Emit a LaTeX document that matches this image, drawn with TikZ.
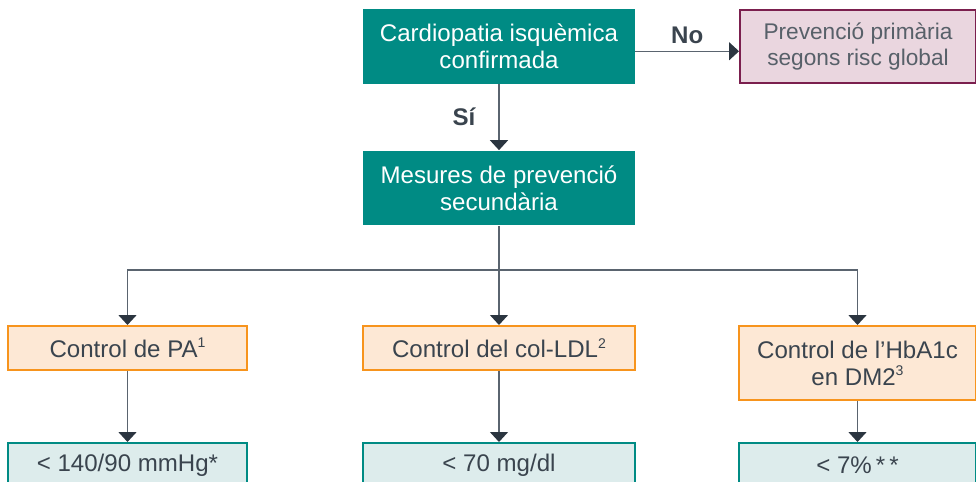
\documentclass[tikz,border=0pt]{standalone}
\usepackage{fontspec}
\setmainfont{Liberation Sans}
\usetikzlibrary{arrows.meta}

\definecolor{tealbox}{HTML}{008B84}
\definecolor{orangeline}{HTML}{F7941D}
\definecolor{orangefill}{HTML}{FDE8D5}
\definecolor{maroonline}{HTML}{7B1F4E}
\definecolor{pinkfill}{HTML}{EAD6DF}
\definecolor{palefill}{HTML}{DDECEC}
\definecolor{textgray}{HTML}{3A444E}
\definecolor{linegray}{HTML}{5A646F}
\definecolor{tipgray}{HTML}{2B3540}

% small footnote marks
\newcommand{\fnmark}[1]{\raisebox{0.75ex}{\fontsize{8}{8}\selectfont #1}}

\begin{document}
\begin{tikzpicture}[x=0.02cm,y=-0.02cm,
  every node/.style={font=\fontsize{13.7}{15.4}\selectfont,align=center,inner sep=0pt,text=textgray},
  mainbox/.style={fill=tealbox,text=white,minimum width=5.44cm,minimum height=1.5cm},
  primbox/.style={draw=maroonline,line width=0.04cm,fill=pinkfill,text=textgray!85,minimum width=4.72cm,minimum height=1.46cm,font=\fontsize{12.9}{15.2}\selectfont},
  ctrlbox/.style={draw=orangeline,line width=0.04cm,fill=orangefill,minimum height=0.88cm},
  goalbox/.style={draw=tealbox,line width=0.04cm,fill=palefill,minimum height=0.88cm},
  lbl/.style={font=\fontsize{13.7}{15.4}\selectfont\bfseries},
  arr/.style={draw=linegray,line width=0.03cm,-{Triangle[width=0.36cm,length=0.2cm,color=tipgray]}}]
\useasboundingbox (0,0) rectangle (976,482);

\node[mainbox] (cardio) at (499,46.5) {Cardiopatia isquèmica\\confirmada};
\node[primbox] (prim) at (858,46.5) {Prevenció primària\\segons risc global};
\node[mainbox] (mesures) at (499,188) {Mesures de prevenció\\secundària};
\coordinate (split) at (499,270);
%
\node[ctrlbox,minimum width=4.78cm] (pa) at (127.5,348) {Control de PA\fnmark{1}};
\node[ctrlbox,minimum width=5.44cm] (ldl) at (499,348) {Control del col-LDL\fnmark{2}};
\node[ctrlbox,minimum width=4.74cm,minimum height=1.48cm] (hba) at (857.5,363) {Control de l’HbA1c\\en DM2\fnmark{3}};
%
\node[goalbox,minimum width=4.78cm] (pagoal) at (127.5,465) {< 140/90 mmHg*};
\node[goalbox,minimum width=5.44cm] (ldlgoal) at (499,465) {< 70 mg/dl};
\node[goalbox,minimum width=4.74cm] (hbagoal) at (857.5,465) {< 7\%\,*\,*};

\draw[arr] (cardio) -- (mesures) node[lbl,midway,left=0.46cm] (yes) {Sí};
\draw[arr] (cardio.-2.7) -- (cardio.-2.7 -| prim.west) node[lbl,midway,above=0.14cm] (no) {No};
\draw[draw=linegray,line width=0.03cm] (mesures) -- (split);
\draw[arr] (split) -| (pa);
\draw[arr] (split) -- (ldl);
\draw[arr] (split) -| (hba);
%
\draw[arr] (pa) -- (pagoal);
\draw[arr] (ldl) -- (ldlgoal);
\draw[arr] (hba) -- (hbagoal);

\end{tikzpicture}
\end{document}
